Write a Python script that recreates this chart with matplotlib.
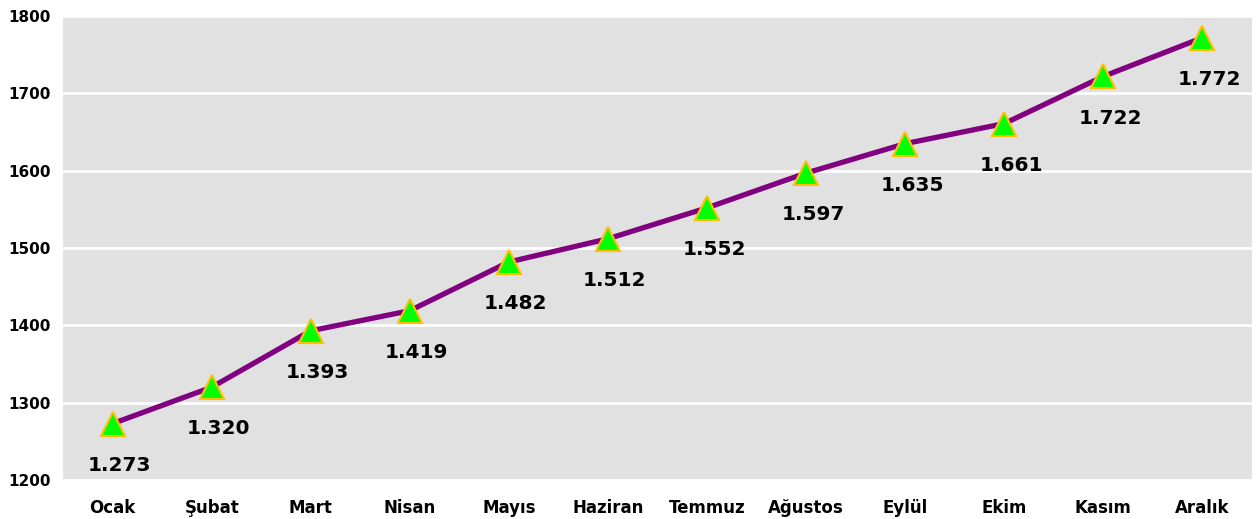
import matplotlib.pyplot as plt

months = ["Ocak", "Şubat", "Mart", "Nisan", "Mayıs", "Haziran",
          "Temmuz", "Ağustos", "Eylül", "Ekim", "Kasım", "Aralık"]
values = [1273, 1320, 1393, 1419, 1482, 1512, 1552, 1597, 1635, 1661, 1722, 1772]
y_ticks = [1200, 1300, 1400, 1500, 1600, 1700, 1800]


def fmt(v):
    # Turkish thousands separator
    return f"{v:,}".replace(",", ".")


fig = plt.figure(figsize=(12.58, 5.19), dpi=100)
ax = fig.add_axes([0.0501, 0.0751, 0.9451, 0.8939])
ax.set_facecolor("#e1e1e1")

x = list(range(len(months)))
ax.plot(x, values, color="#800080", linewidth=3.8, zorder=3,
        marker="^", markersize=17, markerfacecolor="#00ff00",
        markeredgecolor="#ffc000", markeredgewidth=1.5)

for xi, v in zip(x, values):
    ax.annotate(fmt(v), (xi, v), xytext=(5, -30), textcoords="offset points",
                ha="center", va="center", fontsize=14.5, fontweight="heavy",
                color="black", zorder=4)

ax.set_xlim(-0.5, len(months) - 0.5)
ax.set_ylim(1200, 1800)
ax.set_yticks(y_ticks)
ax.set_yticklabels([str(t) for t in y_ticks], fontsize=11, fontweight="bold")
ax.set_xticks(x)
ax.set_xticklabels(months, fontsize=12, fontweight="bold")
ax.tick_params(axis="both", length=0)
ax.tick_params(axis="x", pad=14)
ax.tick_params(axis="y", pad=9)

ax.grid(axis="y", color="white", linewidth=2)
ax.set_axisbelow(True)
for s in ax.spines.values():
    s.set_visible(False)

plt.savefig("out.png", dpi=100)
plt.close()
